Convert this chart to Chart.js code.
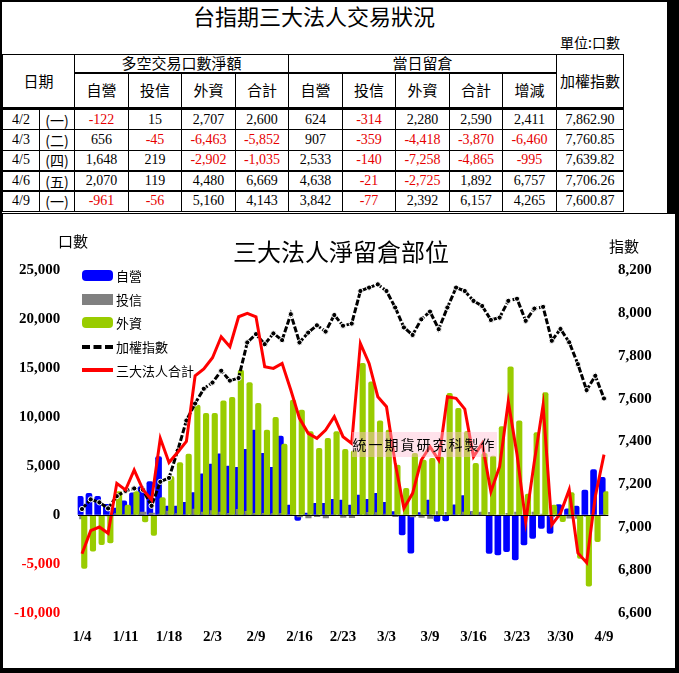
<!DOCTYPE html>
<html lang="zh-Hant">
<head>
<meta charset="UTF-8">
<title>台指期三大法人交易狀況</title>
<script src="https://cdn.jsdelivr.net/npm/chart.js@4.4.1/dist/chart.umd.min.js"></script>
<style>
    html, body { margin: 0; padding: 0; background: #000; }
    body { width: 679px; height: 673px; position: relative; overflow: hidden;
           font-family: "Liberation Serif", "Noto Sans CJK TC", serif; }
    .cjk { font-family: "Noto Sans CJK TC", sans-serif; }
    #top { position: absolute; left: 2px; top: 2px; width: 665px; height: 211px; background: #fff; overflow: hidden; }
    #bottom { position: absolute; left: 3px; top: 214px; width: 672px; height: 454px; background: #fff; }
    #mainTitle { position: absolute; left: 0; top: 0; width: 624px; text-align: center;
                 font-size: 22px; line-height: 26px; }
    #unit { position: absolute; right: 47px; top: 32px; font-size: 14px; line-height: 16px; }
    #tbl { position: absolute; left: 0; top: 52px; border-collapse: collapse; table-layout: fixed; width: 621px; }
    #tbl td, #tbl th { border: 1px solid #000; padding: 0; text-align: center; font-weight: normal;
                       white-space: nowrap; overflow: hidden; line-height: 14px; }
    #tbl th { font-family: "Noto Sans CJK TC", sans-serif; font-size: 15px; }
    #tbl td { font-size: 14px; }
    #tbl .grp { border-bottom: 2px solid #000; }
    #tbl .hdr2 th, #tbl .hdr2x { border-bottom: 3px solid #000; }
    #tbl .thick td { border-bottom: 2px solid #000; }
    #tbl .neg { color: #e60000; }
    #tbl td.wk { font-family: "Noto Sans CJK TC", sans-serif; font-size: 14px; }
    #chartTitle { position: absolute; left: 0; top: 22px; width: 676px; text-align: center;
                  font-size: 24px; line-height: 30px; }
    .axisUnit { position: absolute; font-size: 15px; line-height: 18px; }
    #legend { position: absolute; left: 79px; top: 50px; }
    .lgRow { height: 23.6px; display: flex; align-items: center; font-size: 13px; }
    .lgKey { width: 31px; height: 11px; margin-right: 3px; }
    #mark { position: absolute; left: 349px; top: 218px; width: 145px; height: 25px; line-height: 25px;
            background: rgba(255, 190, 210, 0.45); font-size: 14px; letter-spacing: 2px; text-align: center; }
</style>
</head>
<body>
<div id="top">
    <div id="mainTitle" class="cjk">台指期三大法人交易狀況</div>
    <div id="unit" class="cjk">單位:口數</div>
    <table id="tbl">
        <colgroup>
            <col style="width:37px"><col style="width:35px"><col style="width:54px"><col style="width:53px">
            <col style="width:54px"><col style="width:53px"><col style="width:54px"><col style="width:53px">
            <col style="width:54px"><col style="width:53px"><col style="width:54px"><col style="width:67px">
        </colgroup>
        <thead>
            <tr style="height:18px">
                <th colspan="2" rowspan="2" class="hdr2x">日期</th>
                <th colspan="4" class="grp">多空交易口數淨額</th>
                <th colspan="5" class="grp">當日留倉</th>
                <th rowspan="2" class="hdr2x">加權指數</th>
            </tr>
            <tr class="hdr2" style="height:36px">
                <th>自營</th><th>投信</th><th>外資</th><th>合計</th>
                <th>自營</th><th>投信</th><th>外資</th><th>合計</th><th>增減</th>
            </tr>
        </thead>
        <tbody id="tblBody"></tbody>
    </table>
</div>

<div id="bottom">
    <canvas id="oiChart" width="672" height="454"></canvas>
    <div id="chartTitle" class="cjk">三大法人淨留倉部位</div>
    <div class="axisUnit cjk" style="left:55px; top:18px">口數</div>
    <div class="axisUnit cjk" style="left:606px; top:23px">指數</div>
    <div id="legend" class="cjk"></div>
    <div id="mark" class="cjk">統一期貨研究科製作</div>
</div>

<script>
// table: last five sessions
const tblDates = ["4/2", "4/3", "4/5", "4/6", "4/9"];
const tblWeek = ["(一)", "(二)", "(四)", "(五)", "(一)"];
const netProp = [-122, 656, 1648, 2070, -961];
const netTrust = [15, -45, 219, 119, -56];
const netForeign = [2707, -6463, -2902, 4480, 5160];
const netTotal = [2600, -5852, -1035, 6669, 4143];
const oiProp = [624, 907, 2533, 4638, 3842];
const oiTrust = [-314, -359, -140, -21, -77];
const oiForeign = [2280, -4418, -7258, -2725, 2392];
const oiTotal = [2590, -3870, -4865, 1892, 6157];
const oiChange = [2411, -6460, -995, 6757, 4265];
const indexClose = [7862.90, 7760.85, 7639.82, 7706.26, 7600.87];

// chart: trading days 1/4 - 4/9
const dates = ["1/4","1/5","1/6","1/9","1/10","1/11","1/12","1/13","1/16","1/17",
    "1/18","1/30","1/31","2/1","2/2","2/3","2/4","2/6","2/7","2/8",
    "2/9","2/10","2/13","2/14","2/15","2/16","2/17","2/20","2/21","2/22",
    "2/23","2/24","2/29","3/1","3/2","3/3","3/5","3/6","3/7","3/8",
    "3/9","3/12","3/13","3/14","3/15","3/16","3/19","3/20","3/21","3/22",
    "3/23","3/26","3/27","3/28","3/29","3/30","4/2","4/3","4/5","4/6","4/9"];
const propOI = [1900, 2200, 1900, 1100, 700, 1450, 2250, 2900, 3400, 5950,
    920, 920, 1290, 2280, 4200, 5200, 6250, 5000, 4860, 6700,
    8670, 6300, 4860, 8060, 1020, -550, 200, 1200, 1200, 1600,
    1530, 1020, 2040, 1600, 2210, 1290, 340, -2040, -3900, 240,
    1530, -650, -600, 1050, 1990, 340, 240, -3910, -4080, -3740,
    -4590, -3060, -2380, -1360, -1870, 1070, 624, 907, 2533, 4638, 3842];
const trustOI = [-400, -100, -100, -100, 150, 80, 0, 300, 200, 100,
    400, 150, 0, 600, 300, 450, 300, 170, 580, 370,
    170, 160, 140, 170, 0, -200, -300, -170, -300, -70,
    -240, -270, 0, 270, 240, 100, -170, 0, -190, -240,
    -340, 360, 260, -30, 300, 340, 300, 270, 0, 170,
    300, 240, 300, 100, -170, -220, -314, -359, -140, -21, -77];
const foreignOI = [-5440, -3700, -3030, -2850, 2380, 1020, 2380, -700, -2080, 1780,
    3950, 5350, 6220, 11220, 10370, 10370, 11660, 12000, 14790, 13500,
    11390, 8670, 9960, 7240, 11730, 10710, 8500, 6800, 7820, 8500,
    6700, 6560, 15470, 13600, 9620, 8670, 5100, 2720, 6300, 5610,
    5780, 5900, 12410, 10880, 8500, 5270, 6300, 6020, 9010, 15130,
    9620, 2140, 8400, 12480, 1020, -680, 2280, -4418, -7258, -2725, 2392];
const totalOI = [-3950, -1600, -1230, -1870, 3230, 2550, 4590, 2600, 1530, 7820,
    5350, 6400, 7500, 14200, 14900, 16050, 18190, 17170, 20230, 20570,
    20230, 15130, 14960, 15470, 12750, 9860, 8330, 7820, 8670, 10030,
    7990, 7310, 17510, 15470, 12070, 11050, 5270, 680, 2210, 5610,
    6970, 5610, 12070, 11900, 10800, 5950, 7310, 2380, 4930, 11560,
    6200, -680, 5500, 11220, -1020, 170, 2590, -3870, -4865, 1892, 6157];
const taiex = [7085, 7130, 7116, 7088, 7145, 7170, 7181, 7175, 7100, 7212,
    7230, 7358, 7498, 7577, 7646, 7675, 7730, 7684, 7696, 7862,
    7901, 7854, 7904, 7873, 7994, 7862, 7908, 7942, 7913, 7990,
    7940, 7950, 8102, 8118, 8133, 8102, 8025, 7932, 7897, 7970,
    8006, 7924, 8025, 8118, 8102, 8056, 8032, 7967, 7978, 8056,
    8066, 7963, 8020, 8028, 7870, 7925, 7862.90, 7760.85, 7639.82, 7706.26, 7600.87];

// ---- table ----
const fmt = v => v.toLocaleString("en-US");
const body = document.getElementById("tblBody");
const rowH = [21, 21, 20, 20, 21];
tblDates.forEach((d, r) => {
    const tr = document.createElement("tr");
    tr.style.height = rowH[r] + "px";
    if (r === 2 || r === 3) tr.className = "thick";
    const cells = [netProp, netTrust, netForeign, netTotal, oiProp, oiTrust, oiForeign, oiTotal, oiChange];
    let html = `<td>${d}</td><td class="wk">${tblWeek[r]}</td>`;
    cells.forEach(arr => {
        const v = arr[r];
        html += `<td class="${v < 0 ? "neg" : ""}">${fmt(v)}</td>`;
    });
    html += `<td>${indexClose[r].toLocaleString("en-US", {minimumFractionDigits: 2})}</td>`;
    tr.innerHTML = html;
    body.appendChild(tr);
});

// ---- chart ----
const BLUE = "#0000ff", GRAY = "#808080", GREEN = "#99cc00", RED = "#ff0000";
const tickFont = { family: '"Liberation Serif", "Times New Roman", serif', size: 15, weight: "bold" };
const pts = (arr, off) => arr.map((v, i) => ({ x: i + off, y: v }));

const legendItems = [
    { label: "自營", color: BLUE, kind: "box", radius: 4 },
    { label: "投信", color: GRAY, kind: "box", radius: 0 },
    { label: "外資", color: GREEN, kind: "box", radius: 4 },
    { label: "加權指數", color: "#000", kind: "dash" },
    { label: "三大法人合計", color: RED, kind: "line" }
];
const legend = document.getElementById("legend");
legendItems.forEach(it => {
    const row = document.createElement("div");
    row.className = "lgRow";
    const key = document.createElement("div");
    key.className = "lgKey";
    if (it.kind === "box") {
        key.style.background = it.color;
        key.style.borderRadius = it.radius + "px";
    } else if (it.kind === "dash") {
        key.style.height = "0";
        key.style.borderTop = "4px dashed #000";
    } else {
        key.style.height = "4px";
        key.style.background = it.color;
    }
    row.appendChild(key);
    row.appendChild(document.createTextNode(it.label));
    legend.appendChild(row);
});

new Chart(document.getElementById("oiChart"), {
    type: "bar",
    data: {
        datasets: [
            { type: "line", label: "三大法人合計", data: pts(totalOI, 0), yAxisID: "y",
              borderColor: RED, borderWidth: 3, pointRadius: 0, tension: 0, order: 0 },
            { type: "line", label: "加權指數", data: pts(taiex, 0), yAxisID: "y1",
              borderColor: "#000", borderWidth: 3, borderDash: [6, 2], pointRadius: 2.6,
              pointBackgroundColor: "#000", pointBorderColor: "#fff", pointBorderWidth: 1, order: 1 },
            { label: "外資", data: pts(foreignOI, 0.26), yAxisID: "y", backgroundColor: GREEN,
              barThickness: 5.5, grouped: false, borderRadius: 2, order: 2 },
            { label: "投信", data: pts(trustOI, 0.03), yAxisID: "y", backgroundColor: GRAY,
              barThickness: 5.5, grouped: false, order: 3 },
            { label: "自營", data: pts(propOI, -0.2), yAxisID: "y", backgroundColor: BLUE,
              barThickness: 6, grouped: false, borderRadius: 2, order: 4 }
        ]
    },
    options: {
        responsive: false,
        animation: false,
        layout: { padding: { top: 56, left: 0, right: 0, bottom: 0 } },
        plugins: { legend: { display: false }, tooltip: { enabled: false } },
        scales: {
            x: {
                type: "linear", min: -0.5, max: 60.5, offset: false,
                grid: { display: false, drawTicks: false }, border: { display: false },
                ticks: { stepSize: 5, autoSkip: false, maxRotation: 0, includeBounds: false,
                         padding: 15, color: "#000", font: tickFont,
                         callback: v => dates[v] ?? "" },
                afterBuildTicks: s => {
                    s.ticks = s.ticks.filter(t => Number.isInteger(t.value) && t.value >= 0 && t.value < dates.length);
                },
                afterFit: s => { s.height = 55; }
            },
            y: {
                position: "left", min: -10000, max: 25000,
                ticks: { stepSize: 5000, padding: 17.5, font: tickFont,
                         color: c => c.tick.value < 0 ? RED : "#000",
                         callback: v => fmt(v) },
                grid: { drawTicks: false, z: 1, lineWidth: 1,
                        color: c => c.tick.value === 0 ? "#000" : "rgba(0,0,0,0)" },
                border: { display: false },
                afterFit: s => { s.width = 74.65; }
            },
            y1: {
                position: "right", min: 6600, max: 8200,
                ticks: { stepSize: 200, padding: 9.6, font: tickFont, color: "#000",
                         callback: v => fmt(v) },
                grid: { display: false, drawTicks: false },
                border: { display: false },
                afterFit: s => { s.width = 66.65; }
            }
        }
    }
});
</script>
</body>
</html>
